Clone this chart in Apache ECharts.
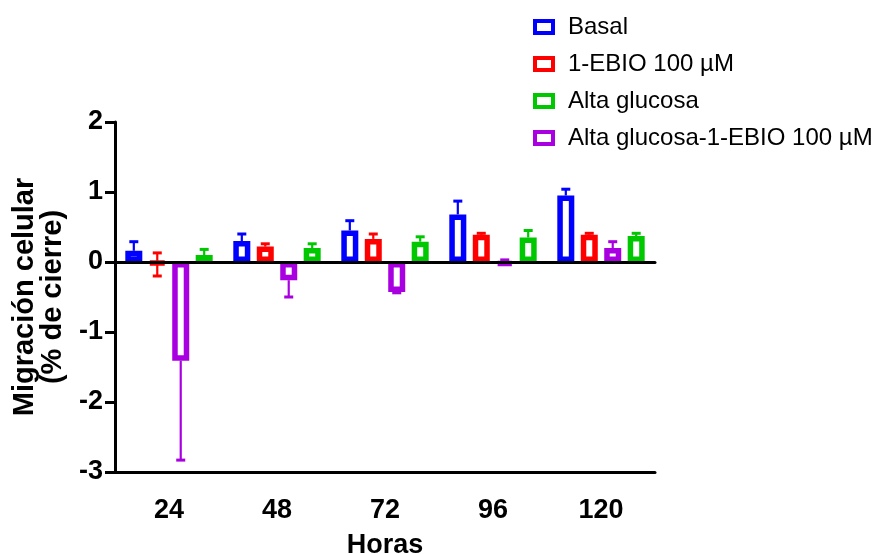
<!DOCTYPE html>
<html>
<head>
<meta charset="utf-8">
<script src="https://cdn.jsdelivr.net/npm/echarts@6/dist/echarts.min.js"></script>
<style>
  html, body { margin: 0; padding: 0; background: #fff; }
  #chart { width: 881px; height: 554px; }
</style>
</head>
<body>
<div id="chart"></div>
<script>
// Time points (hours)
const hours = ['24', '48', '72', '96', '120'];

// Mean closure per group
const basal      = [0.16, 0.30, 0.45, 0.68, 0.95];
const ebio       = [-0.03, 0.22, 0.33, 0.39, 0.39];
const glucEbio   = [-1.41, -0.26, -0.43, -0.04, 0.20];
const gluc       = [0.10, 0.20, 0.29, 0.35, 0.37];

// Whisker ends (low, high) per group
const basalLo    = [0.16, 0.30, 0.45, 0.68, 0.95];
const basalHi    = [0.29, 0.40, 0.59, 0.87, 1.04];
const ebioLo     = [-0.20, 0.22, 0.33, 0.39, 0.39];
const ebioHi     = [0.13, 0.26, 0.40, 0.41, 0.41];
const glucEbioLo = [-2.83, -0.50, -0.44, -0.04, 0.20];
const glucEbioHi = [-1.41, -0.26, -0.43, 0.03, 0.29];
const glucLo     = [0.10, 0.20, 0.29, 0.35, 0.37];
const glucHi     = [0.18, 0.26, 0.36, 0.45, 0.41];

const legendOrder = ['Basal', '1-EBIO 100 µM', 'Alta glucosa', 'Alta glucosa-1-EBIO 100 µM'];

// Drawing order inside each group
const groups = [
  { name: 'Basal', color: '#0000ff', mean: basal, lo: basalLo, hi: basalHi },
  { name: '1-EBIO 100 µM', color: '#ff0000', mean: ebio, lo: ebioLo, hi: ebioHi },
  { name: 'Alta glucosa-1-EBIO 100 µM', color: '#a800e0', mean: glucEbio, lo: glucEbioLo, hi: glucEbioHi },
  { name: 'Alta glucosa', color: '#00c800', mean: gluc, lo: glucLo, hi: glucHi }
];

const BAR_W = 17;
const BAR_GAP = '38%';
const FONT = '"Liberation Sans", Arial, sans-serif';

const series = [];
groups.forEach((g) => {
  series.push({
    name: g.name,
    type: 'bar',
    xAxisIndex: 0,
    barWidth: BAR_W,
    barGap: BAR_GAP,
    z: 3,
    itemStyle: { color: '#ffffff', borderColor: g.color, borderWidth: 5.5 },
    emphasis: { disabled: true },
    data: g.mean
  });
});
groups.forEach((g, gi) => {
  series.push({
    type: 'custom',
    xAxisIndex: 0,
    z: 2,
    silent: true,
    encode: { x: 0, y: [1, 2] },
    data: hours.map((h, i) => [i, g.lo[i], g.hi[i], g.mean[i]]),
    renderItem: function (params, api) {
      const layout = api.barLayout({ count: groups.length, barWidth: BAR_W, barGap: BAR_GAP });
      const off = layout[gi].offsetCenter;
      const ci = api.value(0);
      const lo = api.value(1), hi = api.value(2), m = api.value(3);
      const pLo = api.coord([ci, lo]);
      const pHi = api.coord([ci, hi]);
      const x = pLo[0] + off;
      const capHalf = 4.5;
      const style = { stroke: g.color, lineWidth: 2.2 };
      const capStyle = { stroke: g.color, lineWidth: 3 };
      const children = [{
        type: 'line',
        shape: { x1: x, y1: pLo[1], x2: x, y2: pHi[1] },
        style: style
      }];
      if (hi !== m) children.push({ type: 'line', shape: { x1: x - capHalf, y1: pHi[1], x2: x + capHalf, y2: pHi[1] }, style: capStyle });
      if (lo !== m) children.push({ type: 'line', shape: { x1: x - capHalf, y1: pLo[1], x2: x + capHalf, y2: pLo[1] }, style: capStyle });
      return { type: 'group', children: children };
    }
  });
});

const chart = echarts.init(document.getElementById('chart'), null, { renderer: 'canvas' });
chart.setOption({
  animation: false,
  backgroundColor: '#ffffff',
  textStyle: { fontFamily: FONT },
  grid: { left: 115, right: 226, top: 122, bottom: 82, containLabel: false, outerBoundsMode: 'none' },
  legend: {
    data: legendOrder,
    orient: 'vertical',
    left: 528,
    top: 10,
    itemWidth: 18,
    itemHeight: 12,
    itemGap: 13,
    icon: 'rect',
    itemStyle: { borderWidth: 4 },
    textStyle: { fontFamily: FONT, fontSize: 24, color: '#000', padding: [0, 0, 0, 10] },
    selectedMode: false
  },
  xAxis: [
    {
      type: 'category',
      data: hours,
      position: 'bottom',
      boundaryGap: true,
      z: 10,
      axisLine: { onZero: false, lineStyle: { color: '#000', width: 3 } },
      axisTick: { alignWithLabel: true, length: 10, lineStyle: { color: '#000', width: 3 } },
      axisLabel: { color: '#000', fontSize: 27, fontWeight: 'bold', fontFamily: FONT, margin: 25 },
      name: 'Horas',
      nameLocation: 'middle',
      nameGap: 60,
      nameTextStyle: { color: '#000', fontSize: 27, fontWeight: 'bold', fontFamily: FONT }
    },
    {
      type: 'category',
      data: hours,
      position: 'bottom',
      z: 10,
      axisLine: { onZero: true, lineStyle: { color: '#000', width: 3 } },
      axisTick: { show: false },
      axisLabel: { show: false }
    }
  ],
  yAxis: {
    type: 'value',
    min: -3,
    max: 2,
    interval: 1,
    z: 10,
    axisLine: { show: true, lineStyle: { color: '#000', width: 3 } },
    axisTick: { show: true, length: 10, lineStyle: { color: '#000', width: 3 } },
    splitLine: { show: false },
    axisLabel: { color: '#000', fontSize: 27, fontWeight: 'bold', fontFamily: FONT, margin: 12 },
    name: 'Migración celular\n(% de cierre)',
    nameLocation: 'middle',
    nameGap: 48,
    nameTextStyle: { color: '#000', fontSize: 29, fontWeight: 'bold', fontFamily: FONT, lineHeight: 28 }
  },
  series: series
});
</script>
</body>
</html>
